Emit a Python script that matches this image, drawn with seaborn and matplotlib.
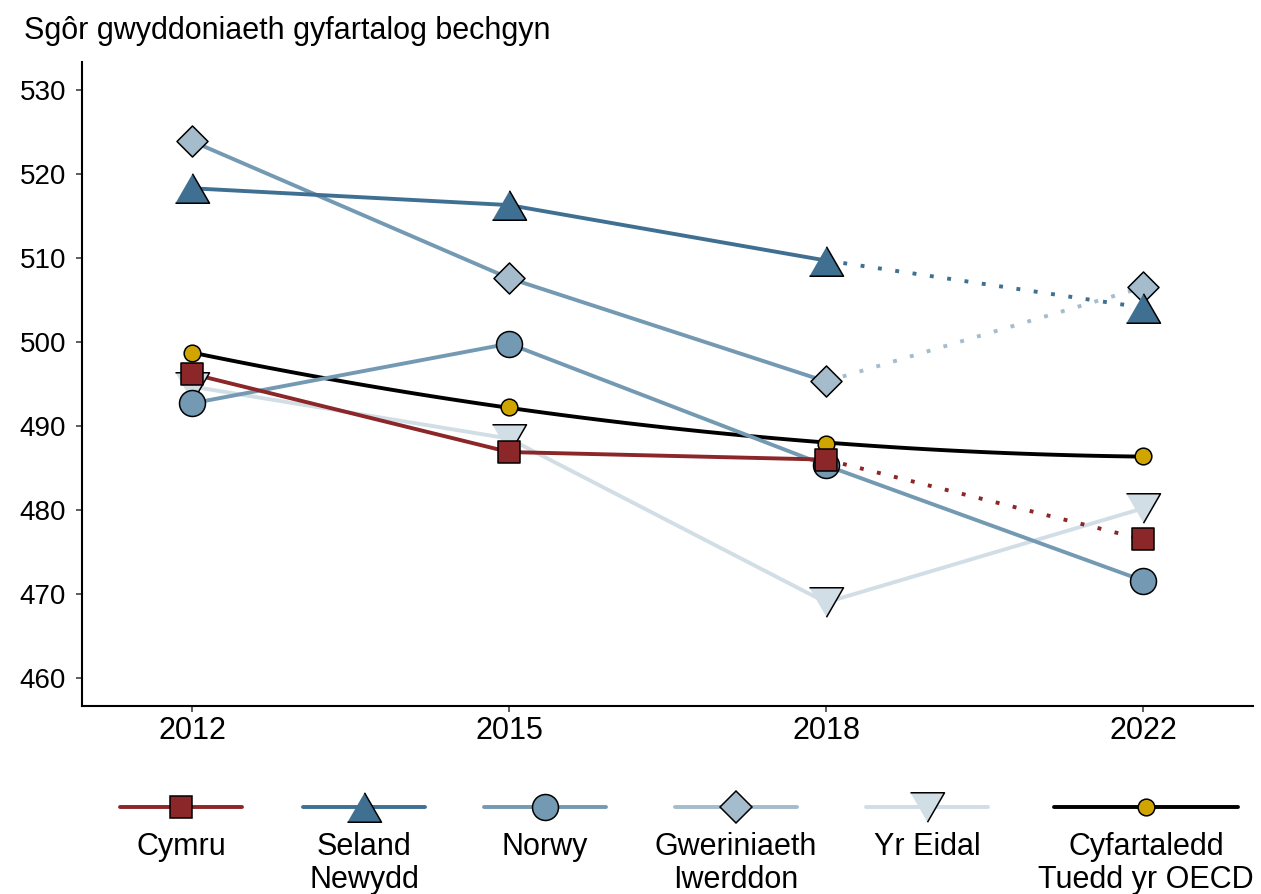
import numpy as np
import pandas as pd
import matplotlib.pyplot as plt
import seaborn as sns
from matplotlib.lines import Line2D

# -------------------------------------------------------------------
# DATA
years = ['2012', '2015', '2018', '2022']
cymru = [496.2, 486.9, 486.0, 476.5]
seland_newydd = [518.3, 516.3, 509.7, 504.1]
norwy = [492.7, 499.8, 485.3, 471.6]
iwerddon = [523.9, 507.6, 495.3, 506.5]
yr_eidal = [494.7, 488.5, 469.0, 480.2]
oecd = [498.7, 492.3, 487.9, 486.4]

labels = ['Cymru', 'Seland\nNewydd', 'Norwy', 'Gweriniaeth\nIwerddon',
          'Yr Eidal', 'Cyfartaledd\nTuedd yr OECD']

# -------------------------------------------------------------------
sns.set_theme(style='ticks')
plt.rcParams['font.family'] = ['Liberation Sans', 'DejaVu Sans']
plt.rcParams['text.color'] = 'black'

W, H = 1261, 894
fig = plt.figure(figsize=(W / 100, H / 100), dpi=100)
ax = fig.add_axes([82 / W, 1 - 706 / H, (1253 - 82) / W, (706 - 62) / H])

xpos = np.arange(len(years))

red = '#8B2629'
dark_blue = '#3F7092'
mid_blue = '#7499B2'
light_blue = '#A4BCCB'
pale_blue = '#D1DEE6'
gold = '#D1A500'

tri_up = [(-1, -0.866), (1, -0.866), (0, 0.866)]
tri_down = [(-1, 0.866), (1, 0.866), (0, -0.866)]

lw = 2.8
dotted = (0, (1, 3.5))

# (values, line colour, fill colour, marker, marker size in pt, dotted last segment)
series = [
    (yr_eidal, pale_blue, pale_blue, tri_down, 24.5, False),
    (iwerddon, mid_blue, light_blue, 'D', 15.8, True),
    (norwy, mid_blue, mid_blue, 'o', 18.7, False),
    (seland_newydd, dark_blue, dark_blue, tri_up, 24.5, True),
    (cymru, red, red, 's', 15.8, True),
]

# OECD trend (quadratic) + averages
sns.regplot(x=xpos, y=np.array(oecd), order=2, ci=None, scatter=False, ax=ax,
            line_kws=dict(color='black', lw=lw, zorder=2))
sns.scatterplot(x=xpos, y=oecd, ax=ax, color=gold, s=12 ** 2, marker='o',
                edgecolor='black', linewidth=1.1, zorder=3)

z = 3
for vals, lc, fc, mk, ms, dot in series:
    if dot:
        sns.lineplot(x=xpos[:3], y=vals[:3], ax=ax, color=lc, lw=lw, zorder=2)
        sns.lineplot(x=xpos[2:], y=vals[2:], ax=ax, color=fc, lw=lw,
                     linestyle=dotted, zorder=2)
    else:
        sns.lineplot(x=xpos, y=vals, ax=ax, color=lc, lw=lw, zorder=2)
    z += 0.1
    sns.scatterplot(x=xpos, y=vals, ax=ax, color=fc, s=ms ** 2, marker=mk,
                    edgecolor='black', linewidth=1.1, zorder=z)

ax.set_xlim(-0.347, 3.347)
ax.set_ylim(456.67, 533.33)
ax.set_xticks(xpos)
ax.set_xticklabels(years)
ax.set_yticks(np.arange(460, 531, 10))
ax.set_xlabel('')
ax.set_ylabel('')
ax.tick_params(axis='y', labelsize=20, length=4.5, width=1.1, color='#333333',
               labelcolor='black', pad=7)
ax.tick_params(axis='x', labelsize=22, length=4.5, width=1.1, color='#333333',
               labelcolor='black', pad=3)
for side in ['top', 'right']:
    ax.spines[side].set_visible(False)
for side in ['left', 'bottom']:
    ax.spines[side].set_linewidth(1.5)
    ax.spines[side].set_color('black')
ax.grid(False)

fig.text(24 / W, 1 - 39 / H, 'Sgôr gwyddoniaeth gyfartalog bechgyn',
         ha='left', va='baseline', fontsize=22, color='black')

# -------------------------------------------------------------------
# legend: handle on top, label underneath
leg_items = [
    (red, red, 's', 15.8, 181, 4.0),
    (dark_blue, dark_blue, tri_up, 24.5, 364, 4.0),
    (mid_blue, mid_blue, 'o', 18.7, 545, 4.0),
    (light_blue, light_blue, 'D', 15.8, 736, 4.0),
    (pale_blue, pale_blue, tri_down, 24.5, 927, 4.0),
    ('black', gold, 'o', 12, 1146, 6.0),
]
for (lc, fc, mk, ms, cx, hl), lab in zip(leg_items, labels):
    h = Line2D([], [], color=lc, lw=lw, marker=mk, markersize=ms,
               markerfacecolor=fc, markeredgecolor='black', markeredgewidth=1.1)
    fig.legend(handles=[h], labels=[''], loc='center',
               bbox_to_anchor=(cx / W, 1 - 810 / H), frameon=False,
               handlelength=hl, handletextpad=0, borderpad=0,
               borderaxespad=0, fontsize=22)
    fig.text(cx / W, 1 - 832 / H, lab, ha='center', va='top',
             fontsize=22, linespacing=1.12, color='black')

fig.savefig('out.png', dpi=100)
